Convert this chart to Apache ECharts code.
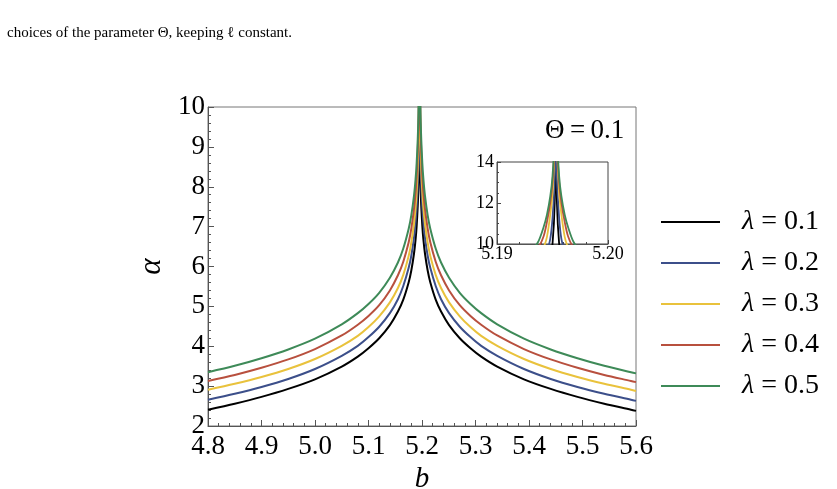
<!DOCTYPE html>
<html>
<head>
<meta charset="utf-8">
<script src="https://cdn.jsdelivr.net/npm/echarts@6/dist/echarts.min.js"></script>
<style>
    html, body { margin: 0; padding: 0; background: #fff; }
    #chart { width: 837px; height: 489px; }
</style>
</head>
<body>
<div id="chart"></div>
<script>
    // b values: dense around the peak at b ~ 5.1953
    const bValues = [4.80, 4.85, 4.90, 4.95, 5.00, 5.05, 5.08, 5.10, 5.12, 5.14, 5.155, 5.165, 5.175, 5.18, 5.185, 5.188, 5.19, 5.192, 5.193, 5.1937, 5.1942, 5.1945, 5.1948, 5.195, 5.1952,
        5.1953,
        5.1954, 5.1956, 5.1958, 5.1961, 5.1964, 5.1969, 5.1976, 5.1986, 5.2006, 5.2026, 5.2056, 5.2106, 5.2156, 5.2256, 5.2356, 5.2506, 5.2706, 5.2906, 5.3106, 5.3406, 5.3906, 5.4406, 5.4906, 5.5406, 5.5906, 5.60]

    // alpha for each lambda
    const alphaL01 = [2.41, 2.56, 2.73, 2.93, 3.17, 3.49, 3.74, 3.95, 4.20, 4.53, 4.87, 5.17, 5.60, 5.90, 6.32, 6.68, 7.02, 7.52, 7.89, 8.27, 8.66, 8.99, 9.47, 10.0, 12.0,
        16,
        12.0, 10.0, 9.47, 8.99, 8.66, 8.27, 7.89, 7.52, 7.02, 6.68, 6.32, 5.90, 5.60, 5.17, 4.87, 4.53, 4.20, 3.95, 3.74, 3.49, 3.17, 2.93, 2.73, 2.56, 2.41, 2.38]
    const alphaL02 = [2.66, 2.81, 2.98, 3.18, 3.43, 3.76, 4.01, 4.23, 4.49, 4.83, 5.18, 5.51, 5.96, 6.27, 6.72, 7.12, 7.48, 8.02, 8.44, 8.86, 9.29, 9.66, 10.25, 11.25, 13.2,
        16,
        13.2, 11.25, 10.25, 9.66, 9.29, 8.86, 8.44, 8.02, 7.48, 7.12, 6.72, 6.27, 5.96, 5.51, 5.18, 4.83, 4.49, 4.23, 4.01, 3.76, 3.43, 3.18, 2.98, 2.81, 2.66, 2.63]
    const alphaL03 = [2.91, 3.06, 3.23, 3.43, 3.68, 4.01, 4.26, 4.48, 4.75, 5.10, 5.46, 5.79, 6.26, 6.60, 7.07, 7.48, 7.87, 8.46, 8.91, 9.36, 9.84, 10.35, 11.45, 12.5, 14.8,
        17,
        14.8, 12.5, 11.45, 10.35, 9.84, 9.36, 8.91, 8.46, 7.87, 7.48, 7.07, 6.60, 6.26, 5.79, 5.46, 5.10, 4.75, 4.48, 4.26, 4.01, 3.68, 3.43, 3.23, 3.06, 2.91, 2.88]
    const alphaL04 = [3.13, 3.28, 3.46, 3.67, 3.93, 4.27, 4.54, 4.76, 5.03, 5.40, 5.78, 6.12, 6.60, 6.95, 7.44, 7.86, 8.27, 8.87, 9.33, 9.80, 10.38, 11.08, 12.02, 13.0, 15.0,
        17,
        15.0, 13.0, 12.02, 11.08, 10.38, 9.80, 9.33, 8.87, 8.27, 7.86, 7.44, 6.95, 6.60, 6.12, 5.78, 5.40, 5.03, 4.76, 4.54, 4.27, 3.93, 3.67, 3.46, 3.28, 3.13, 3.10]
    const alphaL05 = [3.35, 3.51, 3.70, 3.92, 4.19, 4.55, 4.83, 5.06, 5.34, 5.72, 6.10, 6.45, 6.94, 7.28, 7.77, 8.19, 8.59, 9.18, 9.62, 10.1, 10.83, 11.43, 12.33, 13.30, 15.4,
        18,
        15.4, 13.30, 12.33, 11.43, 10.83, 10.1, 9.62, 9.18, 8.59, 8.19, 7.77, 7.28, 6.94, 6.45, 6.10, 5.72, 5.34, 5.06, 4.83, 4.55, 4.19, 3.92, 3.70, 3.51, 3.35, 3.32]

    const lambdas = ['0.1', '0.2', '0.3', '0.4', '0.5']
    const alphaSets = [alphaL01, alphaL02, alphaL03, alphaL04, alphaL05]
    const colors = ['#000000', '#3c4f8a', '#e9c23c', '#b8503e', '#3e8a58']

    const serif = "'Liberation Serif', 'DejaVu Serif', serif"

    function axisCommon(fontSize, margin) {
        return {
            type: 'value',
            axisLine: {show: true, lineStyle: {color: '#555', width: 1}},
            axisTick: {show: true, inside: true, length: 6, lineStyle: {color: '#555'}},
            minorTick: {show: true, splitNumber: 5, length: 3, lineStyle: {color: '#555'}},
            splitLine: {show: false},
            minorSplitLine: {show: false},
            axisLabel: {color: '#000', fontFamily: serif, fontSize: fontSize, margin: margin}
        }
    }

    const series = []
    lambdas.forEach((l, i) => {
        const data = bValues.map((b, j) => [b, alphaSets[i][j]])
        // main plot
        series.push({
            name: 'λ = ' + l, type: 'line', xAxisIndex: 0, yAxisIndex: 0,
            data: data, showSymbol: false, symbol: 'none', clip: true, smooth: 0.3,
            lineStyle: {color: colors[i], width: 2}, itemStyle: {color: colors[i]}
        })
        // inset
        series.push({
            name: 'λ = ' + l, type: 'line', xAxisIndex: 1, yAxisIndex: 1,
            data: data, showSymbol: false, symbol: 'none', clip: true, smooth: 0.3,
            lineStyle: {color: colors[i], width: 1.8}, itemStyle: {color: colors[i]}
        })
    })

    const chart = echarts.init(document.getElementById('chart'), null, {renderer: 'canvas'})
    chart.setOption({
        animation: false,
        backgroundColor: '#fff',
        grid: [
            {left: 208, top: 107, width: 428, height: 319, show: true, borderColor: '#777', borderWidth: 1, outerBoundsMode: 'none'},
            {left: 497, top: 162, width: 111, height: 82, show: true, borderColor: '#444', borderWidth: 1, backgroundColor: '#fff', outerBoundsMode: 'none'}
        ],
        xAxis: [
            Object.assign(axisCommon(27, 7), {
                gridIndex: 0, min: 4.8, max: 5.6, interval: 0.1,
                name: 'b', nameLocation: 'middle', nameGap: 37,
                nameTextStyle: {fontFamily: serif, fontStyle: 'italic', fontSize: 29, color: '#000'},
                axisLabel: {color: '#000', fontFamily: serif, fontSize: 27, margin: 7, formatter: v => v.toFixed(1)}
            }),
            Object.assign(axisCommon(18, 2), {
                gridIndex: 1, min: 5.19, max: 5.20, interval: 0.01,
                axisTick: {show: true, inside: true, length: 4, lineStyle: {color: '#444'}},
                minorTick: {show: true, splitNumber: 5, length: 2, lineStyle: {color: '#444'}},
                axisLabel: {color: '#000', fontFamily: serif, fontSize: 18, margin: 1, formatter: v => v.toFixed(2)}
            })
        ],
        yAxis: [
            Object.assign(axisCommon(27, 3), {
                gridIndex: 0, min: 2, max: 10, interval: 1,
                name: 'α', nameLocation: 'middle', nameGap: 29, nameRotate: 90,
                nameTextStyle: {fontFamily: serif, fontStyle: 'italic', fontSize: 31, color: '#000'}
            }),
            Object.assign(axisCommon(18, 3), {
                gridIndex: 1, min: 10, max: 14, interval: 2,
                axisTick: {show: true, inside: true, length: 4, lineStyle: {color: '#444'}},
                minorTick: {show: true, splitNumber: 4, length: 2, lineStyle: {color: '#444'}}
            })
        ],
        legend: {
            orient: 'vertical', left: 661, top: 207, padding: 0,
            icon: 'rect', itemWidth: 59, itemHeight: 2, itemGap: 11,
            data: lambdas.map(l => 'λ = ' + l),
            formatter: name => '{i|λ}' + name.slice(1),
            textStyle: {
                fontFamily: serif, fontSize: 28, color: '#000', lineHeight: 30, padding: [0, 0, 0, 17],
                rich: {i: {fontFamily: serif, fontStyle: 'italic', fontSize: 28, color: '#000'}}
            }
        },
        graphic: [
            {type: 'text', left: 7, top: 26, style: {text: 'choices of the parameter Θ, keeping ℓ constant.', font: '15px ' + serif, fill: '#000'}},
            {type: 'text', left: 545, top: 117, style: {text: 'Θ\u2009=\u20090.1', font: '27px ' + serif, fill: '#000'}}
        ],
        series: series
    })
</script>
</body>
</html>
